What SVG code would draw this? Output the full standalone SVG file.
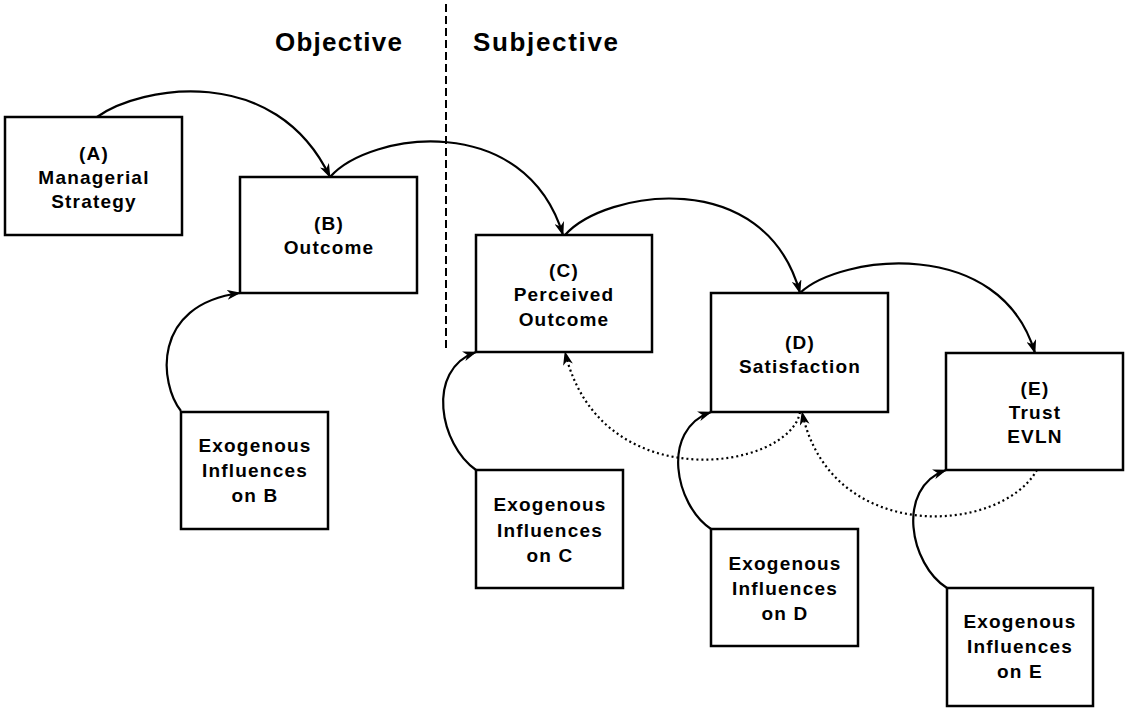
<svg xmlns="http://www.w3.org/2000/svg" width="1125" height="708" viewBox="0 0 1125 708">
<style>
.box{fill:#fff;stroke:#000;stroke-width:2.5}
.t{font-family:"Liberation Sans",Arial,sans-serif;font-weight:bold;font-size:19px;letter-spacing:1.2px;text-anchor:middle;fill:#000}
.h{font-family:"Liberation Sans",Arial,sans-serif;font-weight:bold;font-size:26px;fill:#000}
.c{fill:none;stroke:#000;stroke-width:2.2}
.d{fill:none;stroke:#000;stroke-width:2.2;stroke-dasharray:2 3}
</style>
<defs>
<marker id="ah" viewBox="0 0 14 10" refX="13" refY="5" markerWidth="14" markerHeight="10" markerUnits="userSpaceOnUse" orient="auto">
<path d="M0,0 L14,5 L0,10 L4,5 Z" fill="#000"/>
</marker>
</defs>
<rect width="1125" height="708" fill="#fff"/>
<g id="headers">
<text class="h" x="275" y="51" textLength="127" lengthAdjust="spacing">Objective</text>
<text class="h" x="473" y="51" textLength="145" lengthAdjust="spacing">Subjective</text>
<line x1="446" y1="4" x2="446" y2="352" stroke="#000" stroke-width="2" stroke-dasharray="8 4"/>
</g>
<g id="connectors">
<path class="c" d="M97,117 C140,86 275,62 330,177" marker-end="url(#ah)"/>
<path class="c" d="M330,177 C370,132 525,110 563,235" marker-end="url(#ah)"/>
<path class="c" d="M565,235 C605,190 765,165 800,293" marker-end="url(#ah)"/>
<path class="c" d="M800,293 C840,255 1000,235 1035,353" marker-end="url(#ah)"/>
<path class="c" d="M181,411 C160,385 150,305 240,293" marker-end="url(#ah)"/>
<path class="c" d="M476,470 C440,445 425,370 476,352" marker-end="url(#ah)"/>
<path class="c" d="M711,529 C675,505 660,430 711,412" marker-end="url(#ah)"/>
<path class="c" d="M947,588 C910,565 895,488 946,470" marker-end="url(#ah)"/>
<path class="d" d="M800,412 C790,470 600,500 565,352" marker-end="url(#ah)"/>
<path class="d" d="M1037,470 C1000,535 830,545 802,412" marker-end="url(#ah)"/>
</g>
<g id="nodeA">
<rect class="box" x="5" y="117" width="177" height="118"/>
<text class="t" x="94" y="160">(A)</text>
<text class="t" x="94" y="184">Managerial</text>
<text class="t" x="94" y="208">Strategy</text>
</g>
<g id="nodeB">
<rect class="box" x="240" y="177" width="177" height="116"/>
<text class="t" x="329" y="230">(B)</text>
<text class="t" x="329" y="254">Outcome</text>
</g>
<g id="nodeC">
<rect class="box" x="476" y="235" width="176" height="117"/>
<text class="t" x="564" y="277">(C)</text>
<text class="t" x="564" y="301">Perceived</text>
<text class="t" x="564" y="326">Outcome</text>
</g>
<g id="nodeD">
<rect class="box" x="711" y="293" width="177" height="119"/>
<text class="t" x="800" y="349">(D)</text>
<text class="t" x="800" y="373">Satisfaction</text>
</g>
<g id="nodeE">
<rect class="box" x="946" y="353" width="177" height="117"/>
<text class="t" x="1035" y="395">(E)</text>
<text class="t" x="1035" y="419">Trust</text>
<text class="t" x="1035" y="443">EVLN</text>
</g>
<g id="exoB">
<rect class="box" x="181" y="412" width="147" height="117"/>
<text class="t" x="255" y="452">Exogenous</text>
<text class="t" x="255" y="477">Influences</text>
<text class="t" x="255" y="502">on B</text>
</g>
<g id="exoC">
<rect class="box" x="476" y="470" width="147" height="118"/>
<text class="t" x="550" y="511">Exogenous</text>
<text class="t" x="550" y="537">Influences</text>
<text class="t" x="550" y="562">on C</text>
</g>
<g id="exoD">
<rect class="box" x="711" y="529" width="147" height="117"/>
<text class="t" x="785" y="570">Exogenous</text>
<text class="t" x="785" y="595">Influences</text>
<text class="t" x="785" y="620">on D</text>
</g>
<g id="exoE">
<rect class="box" x="947" y="588" width="146" height="118"/>
<text class="t" x="1020" y="628">Exogenous</text>
<text class="t" x="1020" y="653">Influences</text>
<text class="t" x="1020" y="678">on E</text>
</g>
</svg>
